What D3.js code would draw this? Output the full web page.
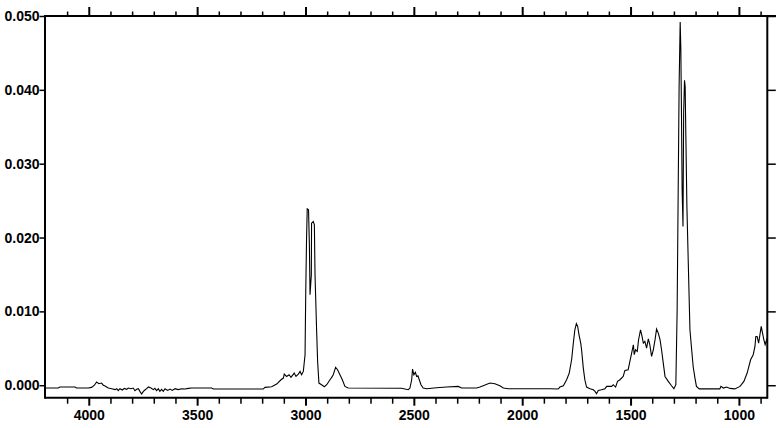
<!DOCTYPE html>
<html><head><meta charset="utf-8">
<script src="https://cdn.jsdelivr.net/npm/d3@7"></script>
<style>
body{margin:0;background:#fff}
svg{display:block}
.lbl{font-family:"Liberation Sans",Arial,sans-serif;font-weight:bold;font-size:14px;fill:#000}
</style>
</head><body>
<svg id="c" width="780" height="428"></svg>
<script>
// Wavenumber (cm-1) and absorbance
const wavenumbers = [4202,4141,4133,4064,4056,4002,3987,3974,3964,3953,3941,3933,3925,3910,3894,3879,3871,3864,3856,3845,3836,3825,3818,3805,3795,3787,3779,3771,3764,3756,3748,3741,3733,3725,3713,3702,3695,3687,3679,3672,3664,3656,3648,3636,3625,3615,3602,3587,3572,3556,3541,3525,3433,3425,3195,3187,3156,3133,3113,3102,3098,3087,3076,3067,3052,3044,3033,3025,3018,3010,3002,2999,2995,2992,2986,2982,2979,2973,2972,2964,2959,2956,2949,2944,2938,2926,2913,2902,2887,2879,2872,2861,2852,2841,2830,2818,2803,2557,2526,2518,2510,2506,2500,2493,2487,2481,2475,2467,2457,2441,2395,2349,2295,2280,2210,2195,2180,2149,2126,2103,2087,2064,1872,1834,1826,1810,1795,1783,1772,1764,1757,1750,1744,1738,1730,1726,1718,1711,1703,1687,1672,1664,1657,1649,1634,1618,1610,1587,1580,1569,1560,1549,1534,1526,1511,1503,1495,1487,1483,1477,1469,1463,1454,1447,1441,1434,1426,1418,1411,1403,1395,1387,1380,1372,1364,1357,1349,1341,1326,1311,1300,1291,1285,1276,1271,1268,1265,1262,1258,1255,1251,1248,1245,1240,1234,1226,1218,1211,1203,1196,1183,1088,1083,1072,1057,1041,1019,995,977,962,946,934,926,922,916,909,903,897,891,885,879,872,869];
const absorbance = [-0.00038,-0.00038,-0.00024,-0.00024,-0.00038,-0.00038,-0.00029,0.0000,0.00043,0.0002,0.00029,0.0000,-0.0001,-0.00038,-0.00047,-0.0006,-0.00047,-0.00074,-0.00047,-0.00065,-0.00043,-0.00056,-0.00038,-0.00047,-0.00038,-0.00074,-0.00056,-0.00047,-0.00083,-0.00119,-0.00083,-0.00065,-0.00047,-0.00024,-0.00038,-0.0006,-0.00043,-0.00074,-0.00047,-0.00083,-0.00056,-0.00083,-0.00047,-0.0007,-0.00052,-0.0007,-0.00047,-0.0006,-0.00047,-0.00052,-0.00043,-0.00038,-0.00038,-0.00052,-0.00052,-0.00029,-0.0002,0.00016,0.00074,0.00097,0.00151,0.00119,0.00142,0.00106,0.00164,0.00119,0.00151,0.00187,0.00142,0.00187,0.00413,0.01225,0.01992,0.02388,0.02375,0.01902,0.01225,0.01496,0.02194,0.02217,0.02172,0.01496,0.00774,0.00322,0.00029,0.00007,-0.0002,0.00007,0.00074,0.00106,0.00142,0.00241,0.0021,0.00142,0.00074,-0.00016,-0.00038,-0.00042,-0.00061,-0.00038,0.00074,0.00218,0.00142,0.00174,0.00119,0.00128,0.00074,0.00007,-0.00038,-0.00047,-0.00034,-0.00025,-0.00016,-0.00038,-0.00038,-0.00025,-0.00007,0.00029,0.0002,-0.00007,-0.00038,-0.00047,-0.00047,-0.00052,-0.00025,-0.00007,0.00074,0.00164,0.00345,0.00571,0.00751,0.00833,0.00797,0.00684,0.00571,0.0048,0.00232,0.00074,-0.00025,-0.00047,-0.00061,-0.00083,-0.00115,-0.0007,-0.00061,-0.00047,-0.00016,-0.00016,0.00007,-0.00025,0.00052,0.00074,0.00119,0.002,0.0021,0.00322,0.00435,0.00548,0.00413,0.0048,0.00458,0.00616,0.00751,0.00661,0.00571,0.00594,0.00503,0.00627,0.00548,0.0039,0.0048,0.00616,0.0076,0.00706,0.00616,0.0048,0.003,0.00119,0.00052,-0.00007,-0.00047,0.00007,0.0102,0.0404,0.0492,0.0456,0.0368,0.0265,0.0215,0.0369,0.0413,0.0404,0.0341,0.0242,0.017,0.0075,0.0048,0.0025,0.001,-0.00016,-0.0005,-0.0005,-0.00016,-0.00038,-0.00024,-0.00043,-0.0005,-0.00016,0.00051,0.00165,0.00345,0.00413,0.00525,0.0066,0.0066,0.00571,0.00683,0.00796,0.00706,0.00616,0.00548,0.00616,0.0058];

const xMajorTicks = [4000,3500,3000,2500,2000,1500,1000];
const xMinorTicks = [4100,3900,3800,3700,3600,3400,3300,3200,3100,2900,2800,2700,2600,2400,2300,2200,2100,1900,1800,1700,1600,1400,1300,1200,1100,900];
const yTicks = [0.000,0.010,0.020,0.030,0.040,0.050];
const xDomain = [4202, 869];
const yDomain = [-0.00169, 0.05];

(function(){
const W = 780, H = 428;
const pL = 45, pR = 767.3, pT = 16, pB = 397.7;
const svg = d3.select("#c");

const x = d3.scaleLinear().domain(xDomain).range([pL, pR]);
const y = d3.scaleLinear().domain(yDomain).range([pB, pT]);

const data = wavenumbers.map((w,i)=>({w, a: absorbance[i]}));

// spectrum
const line = d3.line().x(d=>x(d.w)).y(d=>y(d.a));
svg.append("path").datum(data)
  .attr("d", line)
  .attr("fill","none").attr("stroke","#000").attr("stroke-width",1.1)
  .attr("stroke-linejoin","miter");

// frame lines
const g = svg.append("g").attr("stroke","#000");
g.append("line").attr("x1",pL).attr("x2",pR).attr("y1",pB).attr("y2",pB).attr("stroke-width",2);
g.append("line").attr("x1",pL).attr("x2",W-4).attr("y1",pT).attr("y2",pT).attr("stroke-width",2);
g.append("line").attr("x1",pL).attr("x2",pL).attr("y1",pT-1).attr("y2",pB+1).attr("stroke-width",2);
g.append("line").attr("x1",pR).attr("x2",pR).attr("y1",pT-1).attr("y2",pB+1).attr("stroke-width",2);

// bottom axis
const bMaj = svg.append("g").attr("transform",`translate(0,${pB})`)
  .call(d3.axisBottom(x).tickValues(xMajorTicks).tickSize(8).tickSizeOuter(0).tickFormat(d3.format("d")));
const bMin = svg.append("g").attr("transform",`translate(0,${pB})`)
  .call(d3.axisBottom(x).tickValues(xMinorTicks).tickSize(6).tickSizeOuter(0).tickFormat(""));
// top axis
const tMaj = svg.append("g").attr("transform",`translate(0,${pT})`)
  .call(d3.axisTop(x).tickValues(xMajorTicks).tickSize(9).tickSizeOuter(0).tickFormat(""));
const tMin = svg.append("g").attr("transform",`translate(0,${pT})`)
  .call(d3.axisTop(x).tickValues(xMinorTicks).tickSize(4.5).tickSizeOuter(0).tickFormat(""));
// left / right axis
const lA = svg.append("g").attr("transform",`translate(${pL},0)`)
  .call(d3.axisLeft(y).tickValues(yTicks).tickSize(5.5).tickSizeOuter(0).tickPadding(1).tickFormat(d3.format(".3f")));
const rA = svg.append("g").attr("transform",`translate(${pR},0)`)
  .call(d3.axisRight(y).tickValues(yTicks).tickSize(8.5).tickSizeOuter(0).tickFormat(""));

[bMaj,bMin,tMaj,tMin,lA,rA].forEach(a=>{
  a.attr("font-family",null).attr("font-size",null);
  a.select(".domain").remove();
  a.selectAll(".tick line").attr("stroke","#000").attr("stroke-width",1.5);
  a.selectAll(".tick text").attr("class","lbl").attr("fill",null);
});
bMaj.selectAll(".tick line").attr("stroke-width",2);
tMaj.selectAll(".tick line").attr("stroke-width",2);
bMaj.selectAll(".tick text").attr("y",12);
lA.selectAll(".tick text").attr("x",-5.5);
})();
</script>
</body></html>
